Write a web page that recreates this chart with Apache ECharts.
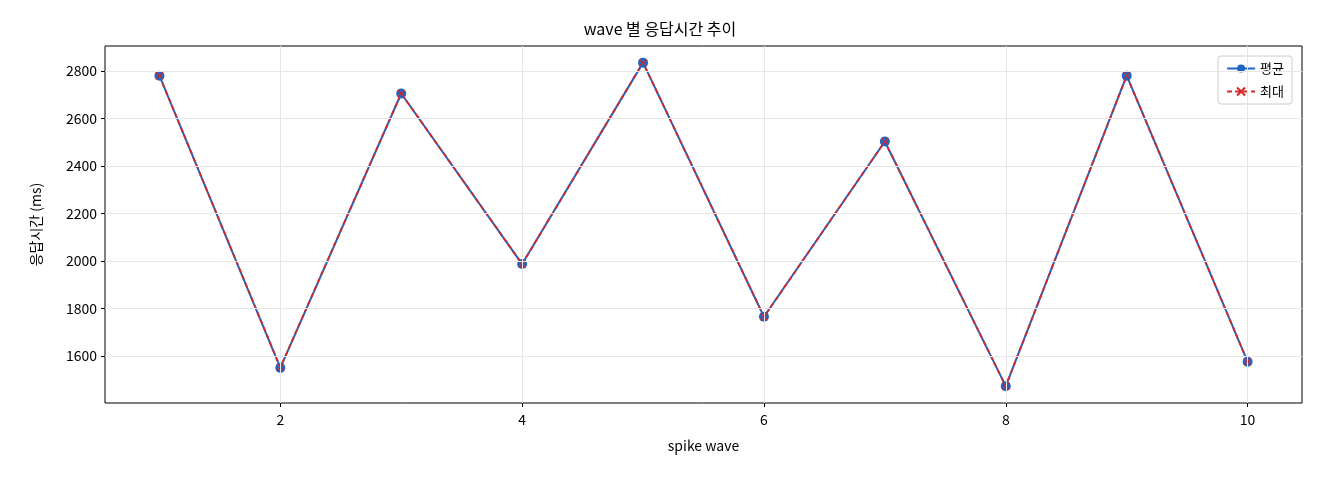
<!DOCTYPE html>
<html><head><meta charset="utf-8">
<script src="https://cdn.jsdelivr.net/npm/echarts@6/dist/echarts.min.js"></script>
<style>html,body{margin:0;padding:0;background:#fff}#c{width:1320px;height:480px}</style>
</head><body><div id="c"></div>
<script>
const waves = [1,2,3,4,5,6,7,8,9,10];
const avgValues = [2780,1550,2705,1987,2835,1765,2503,1473,2780,1576];
const maxValues = [2780,1552,2705,1987,2835,1765,2503,1473,2780,1576];
const xTicks = [2,4,6,8,10];
const yTicks = [1600,1800,2000,2200,2400,2600,2800];
const font = '"Noto Sans CJK KR", "DejaVu Sans", sans-serif';
const chart = echarts.init(document.getElementById('c'));
chart.setOption({
  animation:false,
  textStyle:{fontFamily:font},
  title:{text:'wave 별 응답시간 추이',left:'center',top:16,textStyle:{fontSize:16,fontWeight:'normal',color:'#000',fontFamily:font}},
  grid:{left:105,right:18,top:46,bottom:77,show:true,borderColor:'#000',borderWidth:1},
  legend:{right:28,top:56,orient:'vertical',itemGap:10,backgroundColor:'#fff',borderColor:'#ccc',borderWidth:1,borderRadius:3,padding:[6,8],
    textStyle:{fontSize:13,color:'#000'},itemWidth:28,itemHeight:10,
    data:[{name:'평균'},{name:'최대'}]},
  xAxis:{type:'value',min:0.55,max:10.45,name:'spike wave',nameLocation:'middle',nameGap:36,
    nameTextStyle:{fontSize:14,color:'#000'},
    axisLine:{show:false},splitLine:{show:false},
    axisTick:{show:true,customValues:xTicks,lineStyle:{color:'#000'},length:4},
    axisLabel:{customValues:xTicks,color:'#000',fontSize:14,margin:10,formatter:v=>String(v)}},
  yAxis:{type:'value',min:1402,max:2905,name:'응답시간 (ms)',nameLocation:'middle',nameGap:62,
    nameTextStyle:{fontSize:14,color:'#000'},
    axisLine:{show:false},splitLine:{show:false},
    axisTick:{show:true,customValues:yTicks,lineStyle:{color:'#000'},length:4},
    axisLabel:{customValues:yTicks,color:'#000',fontSize:14,margin:8,formatter:v=>String(v)}},
  series:[
    {name:'grid',type:'line',data:[],silent:true,legendHoverLink:false,
      markLine:{silent:true,symbol:'none',label:{show:false},lineStyle:{color:'#e6e6e6',type:'solid',width:1},
        data:xTicks.map(v=>({xAxis:v})).concat(yTicks.map(v=>({yAxis:v})))}},
    {name:'평균',type:'line',data:waves.map((w,i)=>[w,avgValues[i]]),symbol:'circle',symbolSize:10,
      itemStyle:{color:'#1f66c4'},lineStyle:{color:'#1f66c4',width:2}},
    {name:'최대',type:'line',data:waves.map((w,i)=>[w,maxValues[i]]),symbol:'path://M-1,-1L1,1M1,-1L-1,1',symbolSize:7,
      itemStyle:{color:'#d62728',borderColor:'#d62728',borderWidth:1.2},lineStyle:{color:'#d62728',width:1.8,type:[5,3]}}
  ]
});
</script></body></html>
